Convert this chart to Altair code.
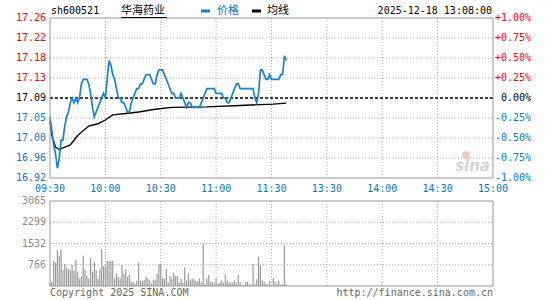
import altair as alt
import pandas as pd

# ---------------- data ----------------
stock_code = "sh600521"
stock_name = "华海药业"
stamp = "2025-12-18 13:08:00"
prev_close = 17.09

# one price per minute from 09:30 (minute 0) ; 11:30 = minute 120, then 13:01.. continue
price = [17.05, 17.02, 16.99, 16.97, 16.94, 16.96, 17.00, 17.00, 17.03, 17.05,
         17.06, 17.08, 17.09, 17.08, 17.09, 17.08, 17.09, 17.12, 17.13, 17.13,
         17.13, 17.12, 17.10, 17.07, 17.05, 17.06, 17.07, 17.08, 17.09, 17.10,
         17.09, 17.13, 17.17, 17.16, 17.14, 17.13, 17.11, 17.09, 17.09, 17.08,
         17.08, 17.07, 17.06, 17.06, 17.08, 17.09, 17.10, 17.11, 17.11, 17.12,
         17.12, 17.13, 17.14, 17.14, 17.14, 17.13, 17.12, 17.12, 17.14, 17.15,
         17.15, 17.15, 17.14, 17.13, 17.12, 17.11, 17.10, 17.10, 17.09, 17.09,
         17.09, 17.10, 17.09, 17.08, 17.07, 17.08, 17.08, 17.07, 17.07, 17.07,
         17.07, 17.07, 17.08, 17.09, 17.10, 17.11, 17.11, 17.11, 17.11, 17.11,
         17.10, 17.10, 17.10, 17.10, 17.09, 17.09, 17.08, 17.08, 17.09, 17.10,
         17.11, 17.12, 17.12, 17.11, 17.11, 17.11, 17.11, 17.11, 17.11, 17.11,
         17.11, 17.09, 17.08, 17.10, 17.15, 17.15, 17.14, 17.13, 17.13, 17.14,
         17.13, 17.13, 17.13, 17.13, 17.13, 17.14, 17.14, 17.18, 17.17]

volume = [120, 150, 912, 851, 1277, 1095, 1314, 584, 791, 669,
          608, 584, 754, 547, 949, 511, 268, 329, 1095, 584,
          365, 255, 998, 511, 876, 572, 268, 596, 1314, 706,
          730, 912, 888, 912, 912, 268, 450, 329, 243, 754,
          426, 608, 329, 426, 146, 146, 73, 183, 840, 183,
          146, 219, 329, 280, 207, 85, 231, 207, 450, 791,
          815, 280, 255, 620, 122, 365, 268, 474, 365, 365,
          122, 268, 122, 669, 183, 450, 207, 268, 243, 183,
          158, 268, 122, 1521, 61, 268, 401, 146, 146, 85,
          280, 85, 122, 183, 122, 426, 183, 122, 122, 122,
          207, 85, 401, 146, 24, 24, 146, 146, 61, 37,
          791, 61, 243, 1058, 730, 207, 146, 85, 24, 183,
          24, 280, 146, 85, 183, 24, 60, 1460, 61]

avg_minute = [0, 1, 3, 5, 8, 11, 15, 21, 26, 30, 34, 41, 48, 57, 66, 85, 103, 121, 128]
avg_price = [17.04, 17.01, 16.985, 16.98, 16.985, 16.99, 17.01, 17.03, 17.035, 17.043,
             17.054, 17.057, 17.06, 17.066, 17.07, 17.071, 17.074, 17.077, 17.079]

time_minute = [0, 30, 60, 90, 120, 150, 180, 210, 240]
time_label = ["09:30", "10:00", "10:30", "11:00", "11:30", "13:30", "14:00", "14:30", "15:00"]

pct_steps = [1.0, 0.75, 0.5, 0.25, 0.0, -0.25, -0.5, -0.75, -1.0]
price_labels = ["17.26", "17.22", "17.18", "17.13", "17.09", "17.05", "17.00", "16.96", "16.92"]
pct_labels = ["+1.00%", "+0.75%", "+0.50%", "+0.25%", "0.00%", "-0.25%", "-0.50%", "-0.75%", "-1.00%"]

vol_ticks = [3065, 2299, 1532, 766]
vol_labels = ["3065", "2299", "1532", "766"]

# ---------------- layout / style ----------------
W = 443          # plot width
H1 = 160         # price panel height
GAP = 23         # gap between panels
V0 = H1 + GAP    # top of volume panel
H2 = 85          # volume panel height
HT = V0 + H2     # total height
BLUE = "#1a82cf"
BLUE_TXT = "#0a78c8"
RED = "#ff0000"
GRID = "#aaaaaa"
BORDER = "#999999"
MONO = "DejaVu Sans Mono"
CJK = "Noto Sans CJK SC"

ymin, ymax = prev_close * 0.99, prev_close * 1.01
xs = alt.Scale(domain=[0, 240], nice=False, zero=False)
ys = alt.Scale(domain=[ymin, ymax], range=[H1, 0], nice=False, zero=False)
vs = alt.Scale(domain=[0, 3065], range=[HT, V0], nice=False, zero=False)

minutes = list(range(len(price)))
df_p = pd.DataFrame({"m": minutes, "p": price})
df_v = pd.DataFrame({"m": minutes, "v": volume})
df_a = pd.DataFrame({"m": avg_minute, "a": avg_price})
df_t = pd.DataFrame({"m": time_minute, "lab": time_label})
df_tin = df_t[(df_t.m > 0) & (df_t.m < 240)]
df_tick = pd.DataFrame({
    "pos": [prev_close * (1 + s / 100) for s in pct_steps],
    "lab": price_labels,
    "pct": pct_labels,
    "col": [RED if s > 0 else ("#000000" if s == 0 else BLUE_TXT) for s in pct_steps],
    "inner": [abs(s) not in (0.0, 1.0) for s in pct_steps],
})
df_vt = pd.DataFrame({"v": vol_ticks, "lab": vol_labels})
one = pd.DataFrame({"k": [0]})

X = alt.X("m:Q", scale=xs, axis=None)
YP = lambda f: alt.Y(f, scale=ys, axis=None)
YV = lambda f: alt.Y(f, scale=vs, axis=None)

# ---------------- price panel ----------------
vgrid = alt.Chart(df_tin).mark_rule(color=GRID, strokeDash=[1, 2], strokeWidth=1).encode(
    x=X, y=alt.value(0), y2=alt.value(H1))
hgrid = alt.Chart(df_tick[df_tick.inner]).mark_rule(color=GRID, strokeDash=[1, 2], strokeWidth=1).encode(
    y=YP("pos:Q"), x=alt.value(0), x2=alt.value(W))
prev_line = alt.Chart(pd.DataFrame({"pos": [prev_close]})).mark_rule(
    color="#000000", strokeDash=[3, 2], strokeWidth=1.3).encode(
    y=YP("pos:Q"), x=alt.value(0), x2=alt.value(W))
avg_line = alt.Chart(df_a).mark_line(color="#000000", strokeWidth=1.4).encode(x=X, y=YP("a:Q"))
price_line = alt.Chart(df_p).mark_line(color=BLUE, strokeWidth=1.7).encode(x=X, y=YP("p:Q"))
box1 = alt.Chart(one).mark_rect(fill=None, fillOpacity=0, stroke=BORDER, strokeWidth=1).encode(
    x=alt.value(0), x2=alt.value(W), y=alt.value(0), y2=alt.value(H1))

left_lab = alt.Chart(df_tick).mark_text(align="right", baseline="middle", font=MONO, fontSize=10).encode(
    y=YP("pos:Q"), x=alt.value(-4), text="lab:N", color=alt.Color("col:N", scale=None))
right_lab = alt.Chart(df_tick).mark_text(align="right", baseline="middle", font=MONO, fontSize=10).encode(
    y=YP("pos:Q"), x=alt.value(W + 38), text="pct:N", color=alt.Color("col:N", scale=None))
time_lab = alt.Chart(df_t).mark_text(align="center", baseline="middle", font=MONO, fontSize=10,
                                     color=BLUE_TXT).encode(x=X, y=alt.value(H1 + 11), text="lab:N")

def label(txt, x, y, align="left", font=MONO, size=10, color="#000000", **kw):
    return alt.Chart(one).mark_text(align=align, baseline="middle", font=font, fontSize=size,
                                    color=color, text=txt, **kw).encode(x=alt.value(x), y=alt.value(y))

t_code = label(stock_code, 1, -7)
t_name = label(stock_name, 71, -7, font=CJK, size=11)
t_name_ul = alt.Chart(one).mark_rule(color="#000000", strokeWidth=1).encode(
    x=alt.value(71), x2=alt.value(117), y=alt.value(-0.5))
leg_b = alt.Chart(one).mark_rule(color=BLUE, strokeWidth=3).encode(
    x=alt.value(151), x2=alt.value(160), y=alt.value(-7))
leg_bt = label("价格", 167, -7, font=CJK, size=11, color=BLUE_TXT)
leg_k = alt.Chart(one).mark_rule(color="#000000", strokeWidth=3).encode(
    x=alt.value(202), x2=alt.value(211), y=alt.value(-7))
leg_kt = label("均线", 217, -7, font=CJK, size=11)
t_stamp = label(stamp, W - 1, -7, align="right")
logo_eye = alt.Chart(one).mark_point(shape="circle", size=60, filled=True, color="#f2b8b8",
                                     opacity=0.8).encode(x=alt.value(W - 27), y=alt.value(H1 - 23))
logo = label("sina", W - 3, H1 - 12, align="right", font="DejaVu Sans", size=15,
             color="#d4d4d4", fontStyle="italic", fontWeight="bold")

# ---------------- volume panel ----------------
vgrid2 = alt.Chart(df_tin).mark_rule(color=GRID, strokeDash=[1, 2], strokeWidth=1).encode(
    x=X, y=alt.value(V0), y2=alt.value(HT))
hgrid2 = alt.Chart(df_vt[df_vt.v < 3065]).mark_rule(color=GRID, strokeDash=[1, 2], strokeWidth=1).encode(
    y=YV("v:Q"), x=alt.value(0), x2=alt.value(W))
bars = alt.Chart(df_v).mark_rule(color="#999999", strokeWidth=1.2).encode(
    x=X, y=YV("v:Q"), y2=alt.datum(0))
box2 = alt.Chart(one).mark_rect(fill=None, fillOpacity=0, stroke=BORDER, strokeWidth=1).encode(
    x=alt.value(0), x2=alt.value(W), y=alt.value(V0), y2=alt.value(HT))
vol_lab = alt.Chart(df_vt).mark_text(align="right", baseline="middle", font=MONO, fontSize=10,
                                     color="#8c8c8c").encode(y=YV("v:Q"), x=alt.value(-4), text="lab:N")
copy_l = label("Copyright 2025 SINA.COM", 0, HT + 7, color="#666666")
copy_r = label("http://finance.sina.com.cn", W, HT + 7, align="right", color="#666666")

chart = alt.layer(
    vgrid, hgrid, logo_eye, logo, prev_line, avg_line, price_line, box1,
    left_lab, right_lab, time_lab,
    t_code, t_name, t_name_ul, leg_b, leg_bt, leg_k, leg_kt, t_stamp,
    vgrid2, hgrid2, bars, box2, vol_lab, copy_l, copy_r,
).resolve_scale(y="independent").properties(
    width=W, height=HT,
    padding={"left": 50, "top": 18, "right": 545 - 50 - W, "bottom": 300 - 18 - HT},
    autosize=alt.AutoSizeParams(type="none"),
    background="#ffffff",
).configure_view(stroke=None)

chart.save("out.html", embed_options={"renderer": "svg", "actions": False})
